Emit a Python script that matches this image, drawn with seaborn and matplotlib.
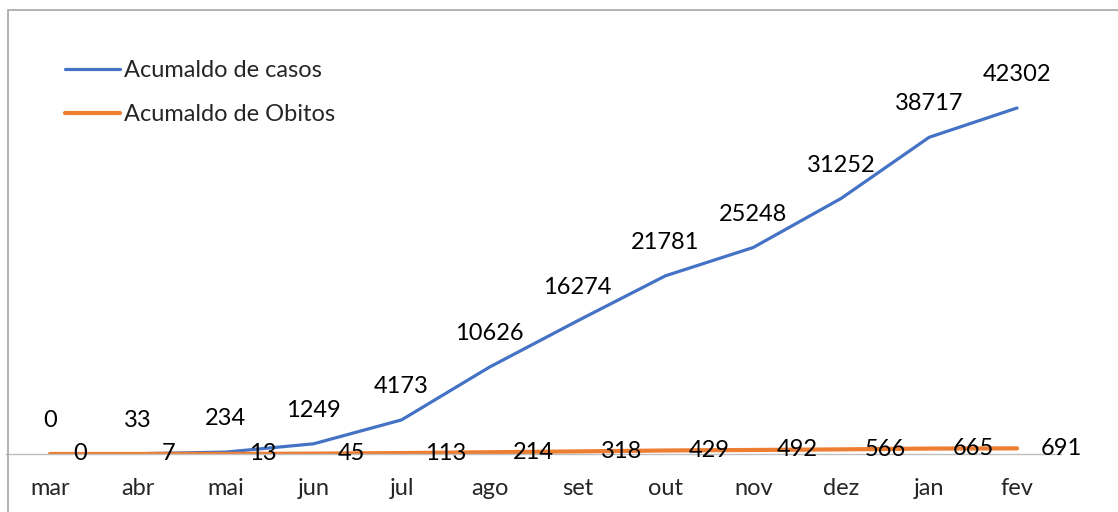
import matplotlib
matplotlib.use("Agg")
import matplotlib.pyplot as plt
import seaborn as sns
import pandas as pd
from matplotlib.patches import Rectangle

months = ["mar", "abr", "mai", "jun", "jul", "ago", "set", "out", "nov", "dez", "jan", "fev"]
casos = [0, 33, 234, 1249, 4173, 10626, 16274, 21781, 25248, 31252, 38717, 42302]
obitos = [0, 7, 13, 45, 113, 214, 318, 429, 492, 566, 665, 691]

sns.set_theme(style="white")
plt.rcParams["font.family"] = ["Lato", "DejaVu Sans"]

W, H = 1118, 512
fig = plt.figure(figsize=(W / 100, H / 100), dpi=100)
ax = fig.add_axes([6 / W, 58 / H, (1061 - 6) / W, (454 - 45) / H])

df = pd.DataFrame({"pos": range(len(months)), "casos": casos, "obitos": obitos})
sns.lineplot(data=df, x="pos", y="casos", ax=ax, color="#4472C4", lw=2.3,
             label="Acumaldo de casos")
sns.lineplot(data=df, x="pos", y="obitos", ax=ax, color="#ED7D31", lw=3,
             label="Acumaldo de Obitos")

fs = 17
for i, v in enumerate(casos):
    ax.annotate(str(v), (i, v), xytext=(0, 24), textcoords="offset points",
                ha="center", va="center", fontsize=fs, color="black")
for i, v in enumerate(obitos):
    ax.annotate(str(v), (i, v), xytext=(17, 0), textcoords="offset points",
                ha="left", va="center", fontsize=fs, color="black")

ax.set_xlim(-0.5, 11.5)
ax.set_ylim(0, 50000)
ax.set_xticks(range(len(months)))
ax.set_xticklabels(months, fontsize=fs)
ax.tick_params(axis="x", length=0, pad=17)
ax.set_yticks([])
ax.set_xlabel("")
ax.set_ylabel("")
for s in ["top", "left", "right"]:
    ax.spines[s].set_visible(False)
ax.spines["bottom"].set_color("#BFBFBF")
ax.spines["bottom"].set_linewidth(1)
ax.patch.set_alpha(0)

ax_h = 454 - 45
leg = ax.legend(loc="upper left", bbox_to_anchor=(50 / (1061 - 6), (ax_h - 6) / ax_h),
                frameon=False, fontsize=fs, handlelength=2.3, handletextpad=0.2,
                labelspacing=0.95, borderaxespad=0)

fig.patches.append(Rectangle((8 / W, -0.5), 2, 0.5 + (H - 10) / H,
                             transform=fig.transFigure, fill=False,
                             edgecolor="#A6A6A6", lw=1.2, zorder=0))

fig.savefig("out.png", dpi=100)
